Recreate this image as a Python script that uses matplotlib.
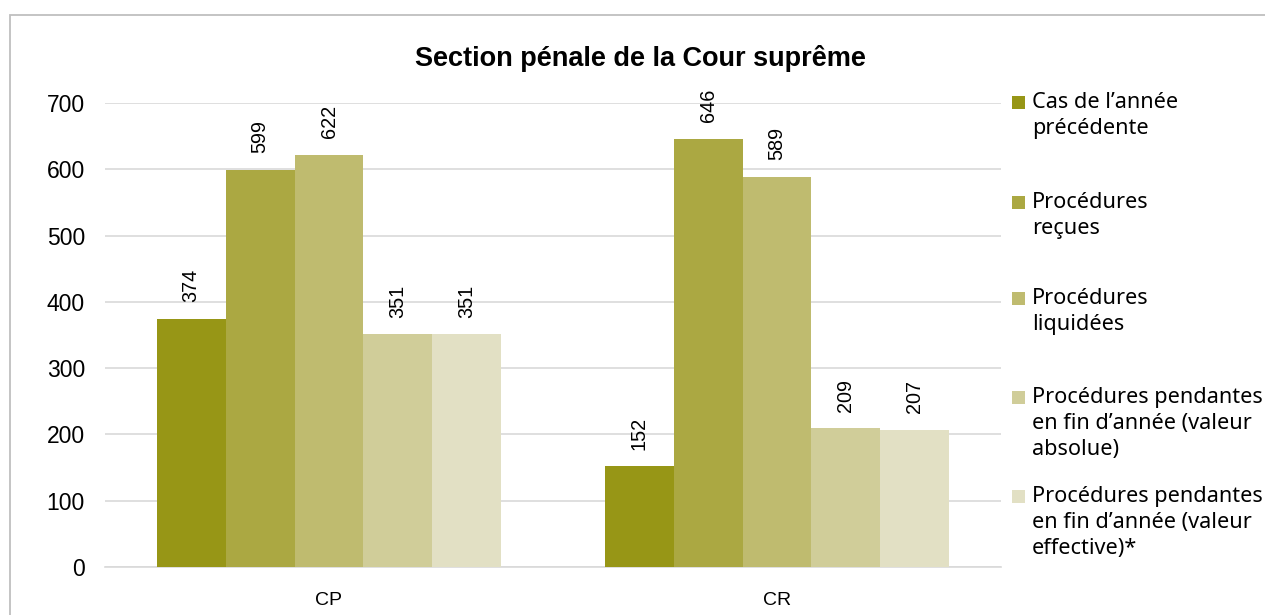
import matplotlib
matplotlib.use("Agg")
import matplotlib.pyplot as plt
from matplotlib.patches import Rectangle
import numpy as np

plt.rcParams['font.family'] = ['Liberation Sans', 'DejaVu Sans']

title = "Section pénale de la Cour suprême"
categories = ["CP", "CR"]
series_names = [
    "Cas de l\u2019année\nprécédente",
    "Procédures\nreçues",
    "Procédures\nliquidées",
    "Procédures pendantes\nen fin d\u2019année (valeur\nabsolue)",
    "Procédures pendantes\nen fin d\u2019année (valeur\neffective)*",
]
values = [
    [374, 152],
    [599, 646],
    [622, 589],
    [351, 209],
    [351, 207],
]
colors = ["#979616", "#aba842", "#bfbb6f", "#d0cd99", "#e2e0c4"]
yticks = [0, 100, 200, 300, 400, 500, 600, 700]

W, H = 1265, 615
fig = plt.figure(figsize=(W / 100, H / 100), dpi=100)
ax = fig.add_axes([105 / W, 1 - 567 / H, (1001 - 105) / W, (567 - 103) / H])

x = np.arange(len(categories))
n = len(values)
bw = 0.77 / n
for i, (vals, c) in enumerate(zip(values, colors)):
    pos = x - 0.77 / 2 + bw * (i + 0.5)
    ax.bar(pos, vals, width=bw, color=c, zorder=3)
    for p, v in zip(pos, vals):
        ax.annotate(str(v), (p, v), xytext=(0, 12), textcoords="offset points",
                    rotation=90, ha="center", va="bottom", fontsize=14.3, color="#000000")

ax.set_xlim(-0.5, 1.5)
ax.set_ylim(0, 700)
ax.set_yticks(yticks)
ax.set_xticks(x)
ax.set_xticklabels(categories, fontsize=14)
ax.tick_params(axis="y", labelsize=16.5, length=0, pad=14.5)
ax.tick_params(axis="x", length=0, pad=18)
ax.yaxis.grid(True, color="#d9d9d9", linewidth=1.2, zorder=0)
for s in ["top", "right", "left"]:
    ax.spines[s].set_visible(False)
ax.spines["bottom"].set_color("#d9d9d9")
ax.spines["bottom"].set_linewidth(1.2)

fig.text(640 / W, 1 - 58 / H, title, ha="center", va="center", fontsize=19.5, fontweight="bold")

# legend
starts = [103, 203, 299, 398, 497]
for y0, name, c in zip(starts, series_names, colors):
    fig.patches.append(Rectangle((1012 / W, 1 - (y0 + 6) / H), 13 / W, 13 / H,
                                 transform=fig.transFigure, facecolor=c, edgecolor="none"))
    fig.text(1032 / W, 1 - (y0 - 11) / H, name, ha="left", va="top", fontsize=15.6,
             linespacing=1.3, family=["Noto Sans", "DejaVu Sans"])

# chart frame
fig.patches.append(Rectangle((9.5 / W, -0.1), 1.2, 1 - 14.5 / H + 0.1, transform=fig.transFigure,
                             facecolor="none", edgecolor="#bfbfbf", linewidth=1.3))

fig.savefig("out.png", dpi=100)
